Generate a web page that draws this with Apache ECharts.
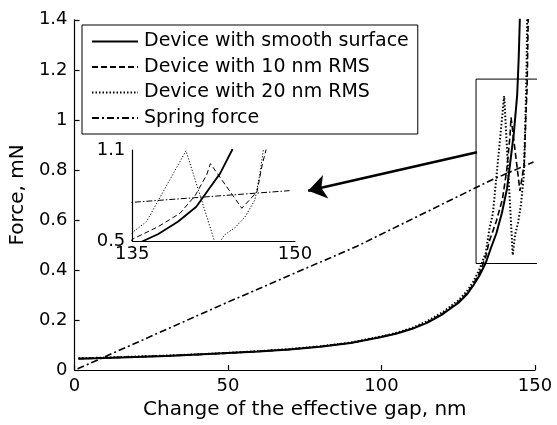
<!DOCTYPE html>
<html>
<head>
<meta charset="utf-8">
<script src="https://cdn.jsdelivr.net/npm/echarts@6.0.0/dist/echarts.min.js"></script>
<style>
  html, body { margin: 0; padding: 0; background: #fff; }
  #chart { width: 557px; height: 425px; }
</style>
</head>
<body>
<div id="chart"></div>
<script>
// 曲线数据 [gap nm, force mN]
var smoothSurface = [[1.3,0.045],[10,0.048],[20,0.052],[30,0.056],[40,0.062],[50,0.068],[60,0.074],[70,0.082],[80,0.093],[90,0.108],[100,0.132],[105,0.146],[110,0.165],[115,0.19],[120,0.224],[125,0.268],[128,0.305],[130,0.34],[132,0.38],[134,0.43],[135.7,0.49],[137.4,0.546],[139.2,0.627],[140.9,0.726],[142.0,0.836],[143.1,0.946],[144.2,1.1],[144.7,1.25],[145.1,1.42]];
var rms10 = [[1.3,0.046],[10,0.049],[20,0.053],[30,0.057],[40,0.062],[50,0.068],[60,0.075],[70,0.083],[80,0.094],[90,0.109],[100,0.133],[105,0.147],[110,0.166],[115,0.192],[120,0.227],[125,0.272],[128,0.31],[130,0.345],[132,0.39],[134,0.455],[135.1,0.515],[137.4,0.595],[139.4,0.683],[140.8,0.8],[141.85,0.935],[142.2,1.01],[145.1,0.716],[146.5,0.825],[147.0,1.01],[147.4,1.12],[147.6,1.26],[147.8,1.42]];
var rms20 = [[1.3,0.047],[10,0.05],[20,0.054],[30,0.058],[40,0.063],[50,0.069],[60,0.076],[70,0.084],[80,0.095],[90,0.11],[100,0.135],[105,0.149],[110,0.169],[115,0.196],[120,0.232],[125,0.278],[128,0.318],[130,0.355],[132,0.405],[134,0.47],[135.1,0.561],[136.3,0.627],[139.95,1.095],[142.75,0.46],[143.5,0.54],[144.5,0.59],[145.4,0.66],[146.3,0.77],[146.77,0.946],[147.08,1.1],[147.3,1.25],[147.45,1.42]];
var springForce = [[1,0.005],[50,0.272],[92,0.495],[135,0.755],[149.5,0.832]];
// 放大区域框和箭头
var zoomBox = [[130.8,0.426],[151.1,0.426],[151.1,1.163],[130.8,1.163],[130.8,0.426]];
var arrowLine = [[131.1,0.871],[76.1,0.717]];
var names = ['Device with smooth surface', 'Device with 10 nm RMS', 'Device with 20 nm RMS', 'Spring force'];

var font = 'DejaVu Sans';
var chart = echarts.init(document.getElementById('chart'));

function axisBase(extra) {
  return Object.assign({
    type: 'value',
    splitLine: { show: false },
    axisLine: { show: true, onZero: false, lineStyle: { color: '#000', width: 1.2 } },
    axisTick: { show: true, inside: true, length: 5, lineStyle: { color: '#000', width: 1.2 } },
    axisLabel: { color: '#000', fontFamily: font, fontSize: 18, margin: 7, showMinLabel: true, showMaxLabel: true }
  }, extra);
}

function curve(name, data, grid, width, dash) {
  return {
    name: name,
    type: 'line',
    data: data,
    xAxisIndex: grid,
    yAxisIndex: grid,
    symbol: 'none',
    showSymbol: false,
    itemStyle: { color: '#000' },
    lineStyle: { color: '#000', width: width, type: dash },
    silent: true
  };
}

var option = {
  animation: false,
  backgroundColor: '#fff',
  grid: [
    { left: 74, top: 19.8, width: 461, height: 354.9 },
    { left: 132.3, top: 150, width: 162.7, height: 91 }
  ],
  xAxis: [
    axisBase({
      gridIndex: 0, min: 0, max: 150, interval: 50,
      name: 'Change of the effective gap, nm', nameLocation: 'middle', nameGap: 27,
      nameTextStyle: { color: '#000', fontFamily: font, fontSize: 20 }
    }),
    axisBase({
      gridIndex: 1, min: 135, max: 150, interval: 15,
      axisTick: { show: false },
      axisLabel: { color: '#000', fontFamily: font, fontSize: 18, margin: 4, showMinLabel: true, showMaxLabel: true }
    })
  ],
  yAxis: [
    axisBase({
      gridIndex: 0, min: 0, max: 1.4, interval: 0.2,
      name: 'Force, mN', nameLocation: 'middle', nameGap: 39,
      nameTextStyle: { color: '#000', fontFamily: font, fontSize: 20 }
    }),
    axisBase({
      gridIndex: 1, min: 0.5, max: 1.1,
      axisTick: { show: false },
      axisLabel: { color: '#000', fontFamily: font, fontSize: 18, margin: 7, customValues: [0.5, 1.1] }
    })
  ],
  legend: {
    data: names,
    orient: 'vertical',
    left: 82,
    top: 25,
    padding: [7, 9, 6.5, 9],
    itemWidth: 46,
    itemHeight: 19,
    itemGap: 6.5,
    borderColor: '#000',
    borderWidth: 1,
    backgroundColor: '#fff',
    selectedMode: false,
    itemStyle: { opacity: 0 },
    textStyle: { color: '#000', fontFamily: font, fontSize: 19, padding: [0, 0, 0, 1] }
  },
  series: [
    curve(names[0], smoothSurface, 0, 2, 'solid'),
    curve(names[1], rms10, 0, 1.6, [6, 3]),
    curve(names[2], rms20, 0, 2, [1.5, 2]),
    curve(names[3], springForce, 0, 1.6, [7, 3, 2, 3]),
    curve(names[0], smoothSurface, 1, 1.8, 'solid'),
    curve(names[1], rms10, 1, 1, [5, 3]),
    curve(names[2], rms20, 1, 1, [1.2, 1.8]),
    curve(names[3], springForce, 1, 1, [6, 2, 1.5, 2]),
    {
      type: 'line',
      data: zoomBox,
      xAxisIndex: 0,
      yAxisIndex: 0,
      clip: false,
      symbol: 'none',
      silent: true,
      lineStyle: { color: '#000', width: 1 }
    },
    {
      type: 'lines',
      coordinateSystem: 'cartesian2d',
      xAxisIndex: 0,
      yAxisIndex: 0,
      symbol: ['none', 'arrow'],
      symbolSize: 18,
      silent: true,
      lineStyle: { color: '#000', width: 2.5, opacity: 1 },
      data: [{ coords: arrowLine }]
    }
  ]
};

chart.setOption(option);
</script>
</body>
</html>
